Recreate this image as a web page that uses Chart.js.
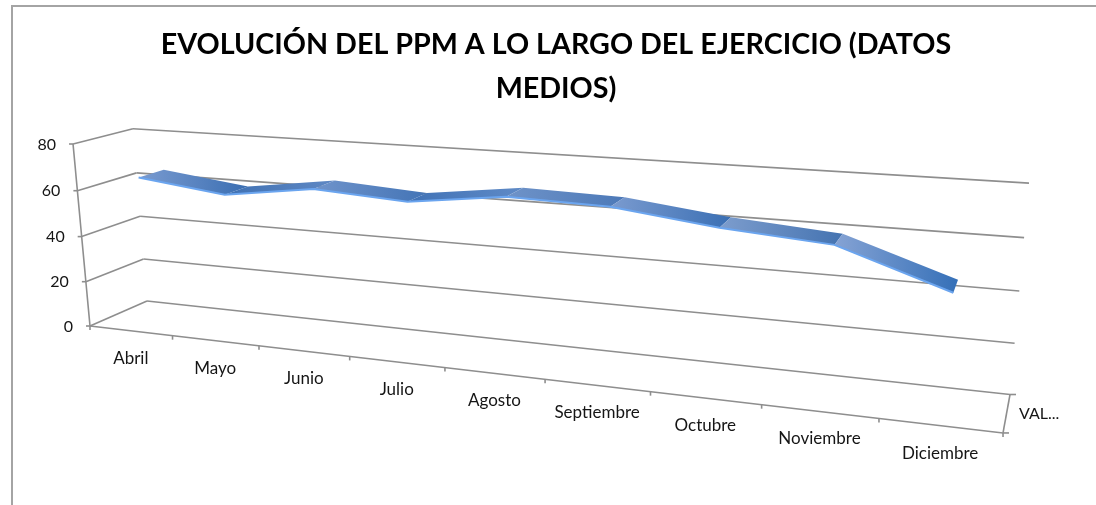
<!DOCTYPE html>
<html>
<head>
<meta charset="utf-8">
<title>PPM</title>
<script src="https://cdn.jsdelivr.net/npm/chart.js@4"></script>
<style>
  body { margin: 0; background: #fff; }
  canvas { display: block; }
</style>
</head>
<body>
<canvas id="ppm_chart" width="1096" height="505"></canvas>
<script>
// values
const months = ['Abril', 'Mayo', 'Junio', 'Julio', 'Agosto', 'Septiembre', 'Octubre', 'Noviembre', 'Diciembre']
const ppm = [64.4, 59.7, 65.0, 62.6, 67.5, 66.6, 61.7, 58.6, 44.7]
const seriesName = 'VAL...'
const chartTitle = ['EVOLUCIÓN DEL PPM A LO LARGO DEL EJERCICIO (DATOS', 'MEDIOS)']

// light -> dark colour of each ribbon stretch
const ribbonStart = ['#7a9bd0', '#3f71b3', '#7094cb', '#4072b6', '#6f93c8', '#7b9bcf', '#7d9dcd', '#86a3d4']
const ribbonEnd = ['#3a6eb2', '#5f88c4', '#4374b6', '#5f8ac6', '#4c79b8', '#3a6fb4', '#4473b1', '#3570b8']

const GRID = '#8e8e8e'
const TEXT = '#151515'
const FONT = 'Lato, "Open Sans", sans-serif'

// the ribbon sits between these two depths of the box
const DEPTH_FRONT = 0.34
const DEPTH_BACK = 0.78

// perspective of the 3D box, s along months, v along values, w into the page (all 0..1)
function project(s, v, w) {
  const d = 1 - 0.205 * s - 0.0347 * v + 0.0596 * w
  return {
    x: (90 + 707.4 * s - 19.5 * v + 65.76 * w) / d,
    y: (326 + 18.2 * s - 187 * v - 7.06 * w) / d
  }
}

function unitS(scale, px) { return (px - scale.left) / scale.width }
function unitV(scale, px) { return (scale.bottom - px) / scale.height }

function segment(ctx, a, b) {
  ctx.beginPath()
  ctx.moveTo(a.x, a.y)
  ctx.lineTo(b.x, b.y)
  ctx.stroke()
}

const box3d = {
  id: 'box3d',
  // move the points that the line controller placed into the perspective box
  afterDatasetsUpdate(chart) {
    const xs = chart.scales.x
    const ys = chart.scales.y
    chart.data.datasets.forEach((ds, n) => {
      chart.getDatasetMeta(n).data.forEach((pt, i) => {
        const p = project(unitS(xs, xs.getPixelForValue(i)), unitV(ys, ys.getPixelForValue(ds.data[i])), ds.depth)
        pt.x = p.x
        pt.y = p.y
      })
    })
  },
  beforeDatasetsDraw(chart) {
    const ctx = chart.ctx
    const xs = chart.scales.x
    const ys = chart.scales.y
    ctx.save()
    ctx.strokeStyle = GRID
    ctx.lineWidth = 1.6
    ctx.fillStyle = TEXT
    ctx.font = '16px ' + FONT
    ctx.textBaseline = 'middle'

    // walls, value axis and its labels
    ys.ticks.forEach(t => {
      const v = unitV(ys, ys.getPixelForValue(t.value))
      const front = project(0, v, 0)
      const corner = project(0, v, 1)
      segment(ctx, front, corner)
      segment(ctx, corner, project(1, v, 1))
      segment(ctx, { x: front.x - 4, y: front.y }, front)
      ctx.textAlign = 'right'
      ctx.fillText(t.value, front.x - 17, front.y + 0.5)
    })
    segment(ctx, project(0, 0, 0), project(0, 1, 0))

    // floor edges with their ticks
    segment(ctx, project(0, 0, 0), project(1, 0, 0))
    segment(ctx, project(1, 0, 0), project(1, 0, 1))
    for (let i = 0; i <= months.length; i++) {
      const p = project(i / months.length, 0, 0)
      segment(ctx, p, { x: p.x, y: p.y + 4 })
    }
    const r0 = project(1, 0, 0)
    const r1 = project(1, 0, 1)
    segment(ctx, r0, { x: r0.x + 6, y: r0.y })
    segment(ctx, r1, { x: r1.x + 6, y: r1.y })

    // series name and month labels
    ctx.textAlign = 'left'
    ctx.fillText(seriesName, r1.x + 9, (r0.y + r1.y) / 2)
    ctx.font = '17px ' + FONT
    ctx.textAlign = 'center'
    xs.ticks.forEach((t, i) => {
      const p = project(unitS(xs, xs.getPixelForValue(i)), 0, 0)
      ctx.fillText(xs.getLabelForValue(t.value), p.x, p.y + 27.5)
    })

    // ribbon top, one gradient per stretch
    const front = chart.getDatasetMeta(0).data
    const back = chart.getDatasetMeta(1).data
    for (let i = 0; i < front.length - 1; i++) {
      const g = ctx.createLinearGradient(front[i].x, 0, back[i + 1].x, 0)
      g.addColorStop(0, ribbonStart[i])
      g.addColorStop(1, ribbonEnd[i])
      ctx.fillStyle = g
      ctx.beginPath()
      ctx.moveTo(front[i].x, front[i].y)
      ctx.lineTo(back[i].x, back[i].y)
      ctx.lineTo(back[i + 1].x, back[i + 1].y)
      ctx.lineTo(front[i + 1].x, front[i + 1].y)
      ctx.closePath()
      ctx.fill()
    }
    ctx.restore()
  },
  // frame of the chart object
  beforeDraw(chart) {
    const ctx = chart.ctx
    ctx.save()
    ctx.strokeStyle = '#a4a4a4'
    ctx.lineWidth = 2
    ctx.beginPath()
    ctx.moveTo(12, chart.height)
    ctx.lineTo(12, 6)
    ctx.lineTo(chart.width, 6)
    ctx.stroke()
    ctx.restore()
  }
}

const data1 = {
  labels: months,
  datasets: [{
    label: 'VALORES',
    data: ppm,
    depth: DEPTH_FRONT,
    borderColor: '#6ba5ef',
    borderWidth: 2,
    pointRadius: 0,
    tension: 0,
    clip: false
  }, {
    label: 'VALORES fondo',
    data: ppm,
    depth: DEPTH_BACK,
    borderColor: 'rgba(0,0,0,0)',
    borderWidth: 0,
    pointRadius: 0,
    tension: 0,
    clip: false
  }]
}

const config1 = {
  type: 'line',
  data: data1,
  plugins: [box3d],
  options: {
    responsive: false,
    animation: false,
    layout: { padding: { left: 36, right: 20, top: 0, bottom: 20 } },
    plugins: {
      legend: { display: false },
      tooltip: { enabled: false },
      title: {
        display: true,
        text: chartTitle,
        color: '#000',
        font: { family: FONT, size: 28.7, weight: 'bold', lineHeight: 1.53 },
        padding: { top: 23, bottom: 20 }
      }
    },
    scales: {
      x: { type: 'category', offset: true, display: false, ticks: { autoSkip: false } },
      y: { type: 'linear', min: 0, max: 80, display: false, ticks: { stepSize: 20 } }
    }
  }
}

const myChart = new Chart(document.getElementById('ppm_chart'), config1)
</script>
</body>
</html>
